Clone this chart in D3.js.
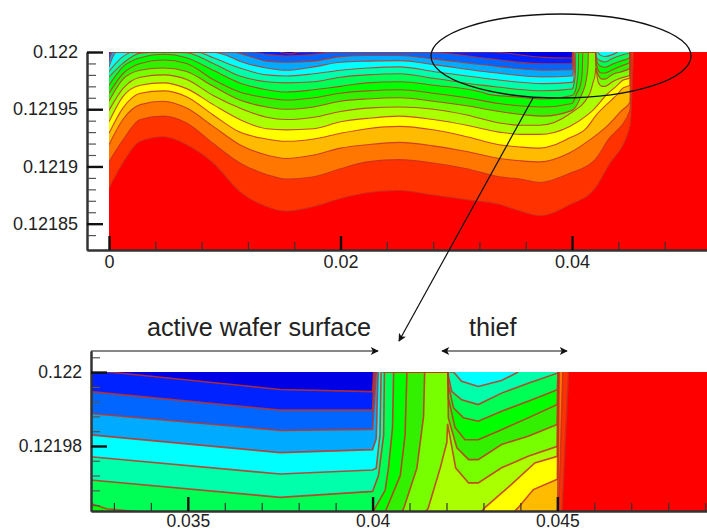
<!DOCTYPE html>
<html><head><meta charset="utf-8">
<script src="https://cdn.jsdelivr.net/npm/d3@7"></script>
<style>html,body{margin:0;padding:0;background:#fff}svg{display:block}text{font-family:"Liberation Sans",Arial,sans-serif;fill:#222}</style>
</head><body><div id="c"></div>
<script>
// Contour boundaries: [x, depth below y=0.122 in millionths]
const B1=[[0,119],[.0012,97],[.0027,78],[.0047,74],[.0067,81],[.009,97],[.0113,122],[.0136,135],[.0153,139],[.0177,135],[.02,128],[.0223,123],[.0251,121],[.028,125],[.0309,129],[.0337,133],[.0355,139],[.0372,143],[.0398,133.5],[.042,119],[.0431,100],[.045,65],[.0453,0]];
const B2=[[0,96],[.0012,77],[.0027,59],[.0047,56],[.0067,62],[.009,80],[.0113,97],[.0136,107],[.0153,111],[.0177,109],[.02,102],[.0223,96],[.0251,94],[.028,97],[.0309,102],[.0337,109],[.0355,111],[.0372,114],[.0398,106],[.042,94],[.0431,77],[.045,51],[.04515,0]];
const B3=[[0,81],[.0012,59],[.0027,46],[.0047,43],[.0067,49],[.009,65],[.0113,81],[.0136,90],[.0153,93],[.0177,90],[.02,84],[.0223,81],[.0251,79],[.028,82],[.0309,87],[.0337,93],[.0355,95],[.0372,96],[.0398,88],[.0415,77],[.043,65],[.0443,51],[.045,44],[.04505,0]];
const B4=[[0,71],[.0012,49],[.0027,36],[.0047,34],[.0067,39],[.009,55],[.0113,70],[.0136,76],[.0153,78],[.0177,76],[.02,71],[.0223,67],[.0251,65],[.028,68],[.0309,74],[.0337,81],[.0355,83],[.0372,84],[.0398,75],[.0412,67],[.0421,55],[.0434,42],[.04394,36.7],[.04435,31.8],[.045,29],[.04503,0]];
const B5=[[0,61],[.0012,39],[.0027,29],[.0047,27],[.0067,32],[.009,46],[.0113,59],[.0136,67],[.0153,68],[.0177,67],[.02,61],[.0223,58],[.0251,56],[.028,59],[.0309,64],[.0337,70],[.0355,72],[.0372,72],[.0398,65],[.0412,56],[.0418,51],[.04304,36.7],[.04376,30.4],[.04439,24.6],[.045,22.8],[.04502,0]];
const B6=[[0,51],[.0012,32],[.0027,22],[.0047,20],[.0067,24],[.009,38],[.0113,49],[.0136,57],[.0153,59],[.0177,57],[.02,52],[.0223,49],[.0251,48],[.028,50],[.0309,55],[.0337,62],[.0355,64],[.0372,64],[.0398,54],[.0415,37],[.04183,26],[.04201,19],[.04203,14],[.04225,26],[.0426,30],[.04286,30],[.04349,25.9],[.04421,22.8],[.045,20.1],[.04502,0]];
const B7=[[0,43],[.0012,24],[.0027,16],[.0047,14],[.0067,17],[.009,30],[.0113,42],[.0136,48],[.0153,50],[.0177,48],[.02,43],[.0223,41],[.0251,40],[.028,43],[.0309,47],[.0337,52],[.0375,56],[.04,51],[.04084,37],[.0412,26],[.04138,12],[.04141,0],[.04204,0],[.04205,12.4],[.04228,20.5],[.0426,23.7],[.04286,23.7],[.04349,19.6],[.04421,17.4],[.045,14.2],[.04502,0]];
const B8=[[0,36],[.0012,19],[.0027,10],[.0047,7],[.0067,10],[.009,24],[.0113,35],[.0136,40],[.0153,42],[.0177,40],[.02,36],[.0223,34],[.0251,33],[.028,36],[.0309,40],[.0337,45],[.0375,48],[.04,45],[.04039,36.7],[.04075,28],[.04088,17],[.04093,0],[.04204,0],[.04205,7],[.04223,15],[.0425,18.3],[.04286,18.3],[.04349,15.6],[.04421,12.4],[.045,8.8],[.04502,0]];
const B9=[[0,29],[.0012,13],[.0027,5],[.0047,2],[.0067,5],[.009,16],[.0113,27],[.0136,33],[.0153,35],[.0177,33],[.02,30],[.0223,27],[.0251,26],[.028,29],[.03237,35.6],[.0328,37],[.0349,39],[.0375,41],[.04,38],[.04034,32],[.04043,26],[.04054,15],[.04057,0],[.04204,0],[.04205,3.4],[.04219,9.7],[.04246,12.4],[.04286,13.3],[.04349,10.6],[.04421,7.9],[.045,4.8],[.04502,0]];
const B10=[[0,22],[.0012,10],[.0027,1],[.0047,0],[.0067,.6],[.009,10],[.0113,21],[.0136,26],[.0153,27],[.0177,26],[.02,22],[.0223,20],[.0251,19],[.028,23],[.03237,29.2],[.0375,33.9],[.04,32.3],[.04016,28],[.0403,17],[.04032,0],[.04204,0],[.04205,1],[.04214,5.2],[.04241,7.5],[.04286,8.8],[.04349,5.7],[.04421,3],[.045,.3],[.04502,0]];
const B11=[[0,17],[.0012,4],[.0021,0],[.00757,0],[.009,5],[.0113,14],[.0136,20],[.0153,21],[.0177,19],[.02,16],[.0223,14],[.0251,13],[.028,17],[.03237,22.9],[.0375,27.6],[.04,26.5],[.0401,26],[.0402,17],[.04023,0],[.04219,0],[.04241,2.5],[.04286,3.9],[.04349,2.3],[.04394,0]];
const B12=[[0,13],[.00066,0],[.00873,0],[.01017,3],[.0113,8],[.0136,14],[.0153,16],[.0177,13],[.02,9],[.0223,8],[.0251,7.5],[.028,11],[.03237,17],[.0375,21.8],[.04,21],[.0401,18],[.04015,0]];
const B13=[[0,8],[.0003,0],[.0107,0],[.0119,3],[.0136,8],[.0153,9],[.0177,8],[.02,4],[.0223,3],[.0251,3],[.028,6],[.03237,11.2],[.0375,15.8],[.04,15.5],[.0401,0]];
const B14=[[0,2.6],[.0002,0],[.0122,0],[.0136,2],[.0153,3.5],[.0177,2],[.01935,0],[.0275,0],[.03237,5.3],[.0375,10.3],[.04,10.3],[.04005,0]];
const B15=[[.0148,0],[.0156,1.5],[.0165,0],[.03287,0],[.0375,4.7],[.04,5.3],[.04003,0]];
const boundaries=[B1,B2,B3,B4,B5,B6,B7,B8,B9,B10,B11,B12,B13,B14,B15];
const bandColors=["#ff3300","#ff7700","#ffbb00","#ffff00","#aaff00","#77ff00","#33f000","#00ff00","#00ff55","#00ffaa","#00ffff","#00aaff","#0066ff","#0022ff","#0000e6"];
const lineColor="#c8301e", baseColor="#ff0000";
const topXMajor=[0,.02,.04], topYMajor=[.122,.12195,.1219,.12185];
const botXMajor=[.035,.04,.045], botYMajor=[.122,.12198];
const topXMinor=d3.range(0,.0521,.004), topYMinor=d3.range(0,17).map(i=>.122-i*1e-5);
const botXMinor=d3.range(33,50).map(i=>i/1000), botYMinor=d3.range(-1,10).map(i=>.122-i*4e-6);

const W=707,H=531;
const svg=d3.select("#c").append("svg").attr("width",W).attr("height",H);
const defs=svg.append("defs");
defs.append("filter").attr("id","soft").attr("x","-2%").attr("y","-2%").attr("width","104%").attr("height","104%")
  .append("feGaussianBlur").attr("stdDeviation",.7);
const m=defs.append("marker").attr("id","ah").attr("viewBox","0 0 10 10").attr("refX",9).attr("refY",5)
  .attr("markerWidth",10).attr("markerHeight",8).attr("markerUnits","userSpaceOnUse").attr("orient","auto-start-reverse");
m.append("path").attr("d","M0,0L10,5L0,10L2.5,5Z").attr("fill","#111");

function panel(o){
  const x=d3.scaleLinear().domain(o.xd).range(o.xr);
  const y=d3.scaleLinear().domain(o.yd).range(o.yr);
  const yDepth=d=>y(.122-d*1e-6);
  const g=svg.append("g");
  const id="clip"+o.name;
  defs.append("clipPath").attr("id",id).append("rect")
    .attr("x",x(o.field0)).attr("y",y(.122)).attr("width",W-x(o.field0)).attr("height",y(o.yd[0])-y(.122));
  const f=g.append("g").attr("clip-path",`url(#${id})`).append("g").attr("filter","url(#soft)");
  f.append("rect").attr("x",x(o.field0)-4).attr("y",y(.122)-4).attr("width",W).attr("height",y(o.yd[0])-y(.122)+8).attr("fill",baseColor);
  const area=d3.area().curve(o.curve).x(d=>x(d[0])).y0(y(.122)).y1(d=>yDepth(d[1]));
  const line=d3.line().curve(o.curve).x(d=>x(d[0])).y(d=>yDepth(d[1]))
    .defined((d,i,a)=>d[1]>0||(i>0&&a[i-1][1]>0)||(i<a.length-1&&a[i+1][1]>0));
  boundaries.forEach((b,i)=>f.append("path").attr("d",area(b)).attr("fill",bandColors[i]));
  boundaries.forEach(b=>f.append("path").attr("d",line(b)).attr("fill","none").attr("stroke",lineColor).attr("stroke-width",o.lw).attr("stroke-opacity",.85));
  const xMinor=d3.axisBottom(x).tickValues(o.xMinor).tickFormat("").tickSizeOuter(0).tickSizeInner(-8);
  const yMinor=d3.axisLeft(y).tickValues(o.yMinor).tickFormat("").tickSizeOuter(0).tickSizeInner(-9);
  const xMajor=d3.axisBottom(x).tickValues(o.xMajor).tickFormat(o.xf).tickSizeOuter(0).tickSizeInner(-14).tickPadding(o.xpad);
  const yMajor=d3.axisLeft(y).tickValues(o.yMajor).tickFormat(o.yf).tickSizeOuter(0).tickSizeInner(-16).tickPadding(9);
  const bx=o.yr[0], lx=o.xr[0];
  [[xMinor,`translate(0,${bx})`,1.2,"#333"],[yMinor,`translate(${lx},0)`,1.2,"#555"],
   [xMajor,`translate(0,${bx})`,2.4,"#111"],[yMajor,`translate(${lx},0)`,2.4,"#111"]].forEach(([a,t,w,c])=>{
    const ag=g.append("g").attr("transform",t).call(a);
    ag.selectAll(".tick line").attr("stroke",c).attr("stroke-width",w);
    ag.select(".domain").attr("stroke","#333").attr("stroke-width",2);
    ag.selectAll("text").attr("font-size",o.fs).attr("font-family",'"Liberation Sans",Arial,sans-serif').attr("fill","#222");
  });
}
const fmt=v=>String(+v.toFixed(6));
panel({name:"t",xd:[-.0019,.0519],xr:[87,709.8],yd:[.121827,.122],yr:[250,52],field0:0,lw:1.1,curve:d3.curveMonotoneX,xpad:5,
  xMajor:topXMajor,xMinor:topXMinor,yMajor:topYMajor,yMinor:topYMinor,xf:fmt,yf:fmt,fs:18});
panel({name:"b",xd:[.03238,.04905],xr:[91,707],yd:[.1219624,.1220057],yr:[511,351],field0:.03238,lw:1.6,curve:d3.curveLinear,xpad:3.5,
  xMajor:botXMajor,xMinor:botXMinor,yMajor:botYMajor,yMinor:botYMinor,xf:fmt,yf:fmt,fs:17.5});

svg.append("ellipse").attr("cx",561).attr("cy",56).attr("rx",130).attr("ry",42).attr("fill","none").attr("stroke","#111").attr("stroke-width",1.3);
svg.append("line").attr("x1",533).attr("y1",98).attr("x2",399).attr("y2",341).attr("stroke","#111").attr("stroke-width",1.2).attr("marker-end","url(#ah)");
svg.append("line").attr("x1",91).attr("y1",351).attr("x2",378).attr("y2",351).attr("stroke","#111").attr("stroke-width",1.2).attr("marker-end","url(#ah)");
svg.append("line").attr("x1",442).attr("y1",351).attr("x2",567).attr("y2",351).attr("stroke","#111").attr("stroke-width",1.2).attr("marker-end","url(#ah)").attr("marker-start","url(#ah)");
svg.append("text").attr("x",147).attr("y",336).attr("font-size",25.2).text("active wafer surface");
svg.append("text").attr("x",469).attr("y",336).attr("font-size",25.2).text("thief");
</script></body></html>
